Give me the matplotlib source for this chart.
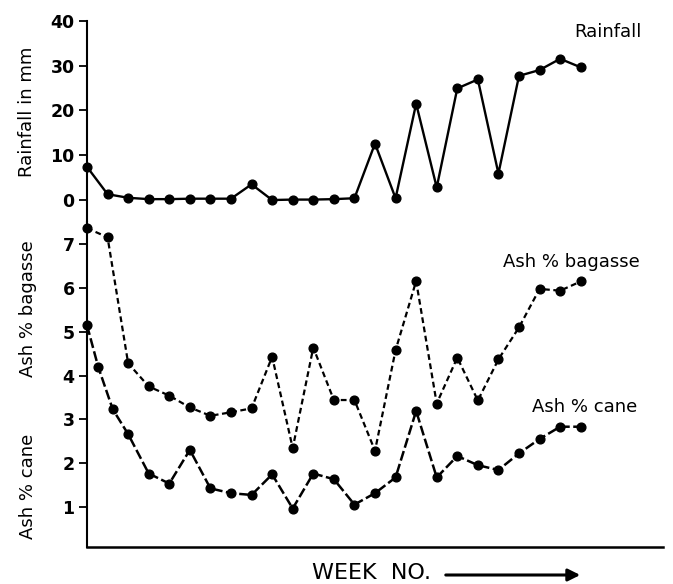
import matplotlib
matplotlib.use('Agg')
import matplotlib.pyplot as plt

# Weekly data
weeks = list(range(25))
rainfall = [7.4, 1.3, 0.5, 0.2, 0.2, 0.3, 0.3, 0.3, 3.5, 0.0, 0.1, 0.1, 0.2,
            0.4, 12.6, 0.4, 21.5, 2.8, 24.9, 26.9, 5.9, 27.7, 29.0, 31.5, 29.6]
ash_bagasse = [7.37, 7.16, 4.28, 3.75, 3.54, 3.27, 3.08, 3.16, 3.25, 4.43, 2.34,
               4.64, 3.44, 3.44, 2.28, 4.58, 6.16, 3.36, 4.41, 3.43, 4.37, 5.10,
               5.98, 5.94, 6.15]
# cane curve has an extra reading in the first weeks
cane_weeks = [0, 0.55, 1.25] + list(range(2, 25))
ash_cane = [5.15, 4.19, 3.23, 2.66, 1.76, 1.53, 2.30, 1.42, 1.31, 1.27, 1.74,
            0.96, 1.76, 1.63, 1.05, 1.31, 1.67, 3.19, 1.67, 2.16, 1.95, 1.84,
            2.22, 2.55, 2.83, 2.83]

rain_ticks = [0, 10, 20, 30, 40]
ash_ticks = [1, 2, 3, 4, 5, 6, 7]

W, H = 673, 584
fig = plt.figure(figsize=(W / 100, H / 100), dpi=100)


def box(left, top, right, bottom):
    # pixel box -> figure fraction
    return [left / W, 1 - bottom / H, (right - left) / W, (bottom - top) / H]


ax_top = fig.add_axes(box(87, 20.7, 663, 222))
ax_bot = fig.add_axes(box(87, 222, 663, 547))

# Rainfall panel
ax_top.plot(weeks, rainfall, color='black', lw=1.7, marker='o', ms=6.3,
            clip_on=False)
ax_top.set_xlim(0, 28)
ax_top.set_ylim(-4.9, 40)
ax_top.set_yticks(rain_ticks)
ax_top.set_xticks([])
for s in ['top', 'right', 'bottom']:
    ax_top.spines[s].set_visible(False)
ax_top.spines['left'].set_bounds(-4.9, 40)

# Ash panel
ax_bot.plot(weeks, ash_bagasse, color='black', lw=1.6, marker='o', ms=6.3,
            linestyle=(0, (2.6, 1.6)), clip_on=False)
ax_bot.plot(cane_weeks, ash_cane, color='black', lw=1.8, marker='o', ms=6.3,
            linestyle=(0, (4.0, 1.4)), clip_on=False)
ax_bot.set_xlim(0, 28)
ax_bot.set_ylim(0.08, 7.51)
ax_bot.set_yticks(ash_ticks)
ax_bot.set_xticks([])
for s in ['top', 'right']:
    ax_bot.spines[s].set_visible(False)

for ax in (ax_top, ax_bot):
    ax.spines['left'].set_linewidth(1.5)
    ax.spines['bottom'].set_linewidth(1.8)
    ax.tick_params(axis='y', direction='out', length=6, width=1.3, pad=3,
                   labelsize=12.5)
    for lab in ax.get_yticklabels():
        lab.set_fontweight('bold')

# Axis labels
fig.text(27 / W, 1 - 112 / H, 'Rainfall in mm', rotation=90, fontsize=13,
         ha='center', va='center')
fig.text(28 / W, 1 - 309 / H, 'Ash % bagasse', rotation=90, fontsize=13,
         ha='center', va='center')
fig.text(28 / W, 1 - 486 / H, 'Ash % cane', rotation=90, fontsize=13,
         ha='center', va='center')

# Curve names
fig.text(608 / W, 1 - 32 / H, 'Rainfall', fontsize=13, ha='center', va='center')
fig.text(571 / W, 1 - 262 / H, 'Ash % bagasse', fontsize=13, ha='center',
         va='center')
fig.text(585 / W, 1 - 407 / H, 'Ash % cane', fontsize=13, ha='center',
         va='center')

# Week number with arrow
fig.text(372 / W, 1 - 573 / H, 'WEEK  NO.', fontsize=16, ha='center',
         va='center')
fig.add_artist(matplotlib.patches.FancyArrowPatch(
    (443 / W, 1 - 575 / H), (583 / W, 1 - 575 / H),
    transform=fig.transFigure, arrowstyle='-|>', mutation_scale=18,
    lw=2.2, color='black'))

plt.savefig('out.png', dpi=100)
plt.close()
